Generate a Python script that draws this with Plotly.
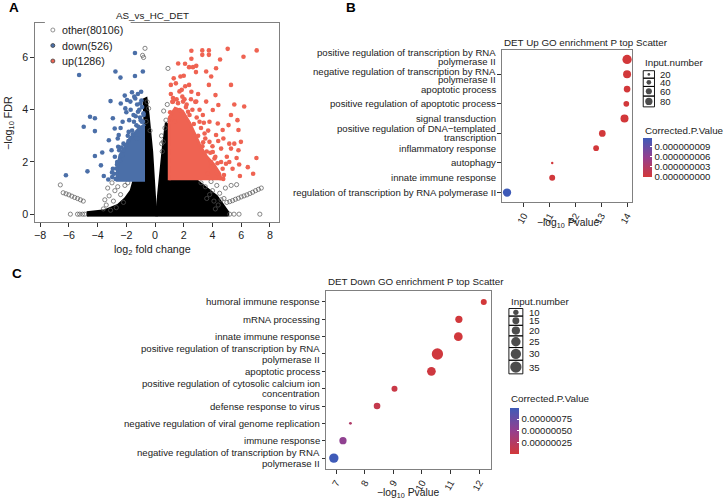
import math
import plotly.graph_objects as go

W, H = 724, 501
FONT = "Liberation Sans, Arial, Helvetica, sans-serif"
TXT = "#222222"

# ---------------- Panel A data (volcano) ----------------
down_x = [-1.40, -2.46, -5.29, -2.76, -2.41, -1.40, -0.85, -2.11, -1.61, -0.97, -3.10, -4.53, -4.19, -4.97,
          -4.19, -6.21, -4.71, -4.19, -3.68, -3.57, -3.26, -3.77, -2.94, -2.94, -2.81, -3.22, -3.03, -2.39,
          -2.07, -2.26, -1.72, -1.38, -1.19, -1.47, -2.53, -1.84, -0.92, -2.57, -2.07, -1.26, -2.64, -2.99,
          -2.30, -1.95, -1.03, -0.81, -1.00, -1.30, -1.60, -1.90, -2.20, -1.10, -0.90, -1.50, -1.80, -2.40,
          -2.00, -1.25, -0.80, -2.60, -2.80, -2.65, -3.00, -2.50, -1.70, -1.45, -1.20, -0.95,
          -2.75, -2.70, -2.45, -2.20, -1.85, -1.55, -1.15, -0.85, -2.85, -2.35, -1.35, -1.05]
down_y = [6.17, 5.95, 5.33, 5.46, 5.23, 5.29, 5.46, 4.54, 4.67, 4.69, 4.33, 3.73, 3.67, 3.35,
          3.18, 1.49, 1.64, 2.23, 2.36, 1.46, 1.33, 1.87, 1.74, 3.67, 3.28, 2.83, 2.45, 4.24,
          4.05, 3.54, 4.31, 4.43, 3.92, 3.54, 3.03, 3.15, 3.54, 2.58, 2.64, 2.90, 2.00, 1.42,
          2.26, 4.37, 4.24, 3.86, 3.60, 3.40, 3.20, 3.00, 2.70, 4.00, 4.10, 3.80, 3.60, 3.30,
          3.90, 4.20, 3.80, 2.90, 2.20, 1.90, 1.60, 2.45, 4.00, 4.50, 4.60, 4.35,
          1.35, 1.75, 2.05, 2.45, 2.80, 3.05, 3.35, 3.55, 1.55, 2.55, 3.75, 3.70]
down_core_x = [-0.70, -2.62, -2.62, -2.45, -2.10, -1.75, -1.25, -0.70]
down_core_y = [1.30, 1.30, 1.75, 2.25, 2.55, 2.90, 3.20, 3.45]

up_x = [5.06, 7.08, 2.53, 3.29, 3.75, 3.29, 3.75, 6.16, 4.53, 2.53, 1.61, 2.09, 2.37, 2.87, 2.64, 3.56,
        2.85, 4.25, 3.91, 1.77, 1.10, 1.45, 2.37, 3.75, 5.29, 1.86, 2.53, 4.21, 5.52, 6.21, 5.29, 4.37,
        5.74, 4.71, 5.81, 5.12, 4.02, 4.41, 4.76, 5.17, 5.52, 5.98, 4.60, 5.29, 5.81, 7.06, 5.68, 5.17,
        5.86, 6.46, 6.83, 5.91, 4.71, 4.37, 4.94, 4.14, 4.02, 3.79, 3.45, 3.10, 3.79, 3.33, 2.87, 3.56,
        1.26, 1.95, 2.30, 1.72, 1.38, 4.25, 3.91, 3.68, 5.40,
        1.20, 1.50, 1.90, 2.20, 2.60, 2.90, 3.20, 3.50, 2.50, 1.10, 1.70, 2.10, 2.80, 3.00, 3.30, 3.60,
        3.90, 4.30, 4.50, 3.10, 2.40, 3.40, 4.00, 4.20, 1.30, 2.00, 3.00, 4.60, 4.40, 4.80, 5.00, 3.70,
        1.05, 1.60, 2.15, 2.70, 3.35, 3.85, 4.35, 4.75, 1.25, 2.05]
up_y = [6.33, 6.27, 6.26, 6.27, 6.27, 6.10, 6.10, 6.03, 5.92, 5.95, 5.77, 5.76, 5.63, 5.68, 5.63, 5.46,
        5.44, 5.59, 5.27, 5.27, 4.95, 5.01, 4.95, 4.95, 4.95, 4.76, 4.69, 4.56, 4.20, 4.12, 3.80, 3.47,
        3.60, 3.22, 3.22, 3.41, 3.99, 4.18, 2.90, 2.70, 2.70, 2.77, 2.51, 2.51, 2.45, 2.15, 2.15, 2.00,
        1.90, 1.80, 1.55, 1.46, 1.74, 1.55, 1.93, 2.13, 2.38, 2.77, 3.09, 3.54, 3.54, 3.80, 4.31, 4.31,
        4.31, 4.31, 3.92, 3.99, 3.54, 3.03, 1.81, 1.55, 1.74,
        4.30, 4.40, 4.50, 4.20, 4.00, 3.70, 3.30, 2.90, 4.40, 4.60, 4.70, 4.90, 4.30, 3.00, 2.60, 2.40,
        2.00, 1.60, 1.40, 4.00, 3.80, 3.50, 2.60, 2.20, 5.20, 5.30, 4.60, 2.00, 2.80, 1.50, 2.20, 3.20,
        3.90, 4.25, 4.10, 3.45, 2.75, 2.35, 1.95, 1.35, 4.45, 4.40]
up_core_x = [0.99, 0.99, 1.40, 1.90, 2.40, 2.85, 3.20, 3.60, 4.10, 4.50, 4.60]
up_core_y = [1.30, 3.70, 4.05, 3.95, 3.50, 3.00, 2.55, 2.20, 1.90, 1.55, 1.30]

other_left_x = [-4.70, -4.70, -3.50, -2.60, -2.10, -1.70, -1.50, -0.70, -0.72, -0.80, -0.60, -0.45, -0.20, 0.02, 0.08, 0.08]
other_left_y = [-0.08, 0.08, 0.15, 0.35, 0.60, 0.90, 1.30, 1.30, 3.30, 4.40, 4.45, 3.80, 2.40, 0.60, 0.18, -0.08]
other_right_x = [0.14, 0.12, 0.22, 0.40, 0.55, 0.75, 0.95, 0.99, 2.90, 3.60, 4.30, 4.70, 5.00, 5.10, 5.10]
other_right_y = [-0.08, 0.18, 0.80, 1.90, 2.60, 3.50, 3.40, 1.30, 1.30, 1.00, 0.70, 0.40, 0.15, 0.08, -0.08]
other_band_x = [-4.75, 5.05]
other_band_y = [0.0, 0.0]
other_x = [-6.4, -6.2, -6.0, -5.8, -5.6, -5.4, -5.2, -5.0, -6.6,
           -5.9, -5.4, -5.25, -5.05, -4.9,
           -0.70, -0.87, -0.80, 0.90, -0.55, -0.45, -0.62, -0.35, 0.76, 0.69, 0.57, 0.46, 0.85, 0.60, 0.50, 0.45,
           -3.0, -2.8, -3.2, -2.6, -2.9, -3.4, -2.4, -2.2, -3.3, -2.7, -3.6, -3.1, -3.5, -2.1, -1.9,
           3.2, 3.5, 4.0, 4.3, 3.8, 4.5, 4.6, 3.9, 4.1, 4.8, 4.4, 5.3, 4.9, 3.6, 4.2, 5.68,
           5.0, 5.2, 5.4, 5.6, 5.8, 6.0, 6.2, 6.4, 6.6, 6.8, 7.0, 7.2, 7.4,
           5.2, 5.5, 5.85, 7.3]
other_y = [0.82, 0.78, 0.74, 0.69, 0.64, 0.60, 0.55, 0.50, 1.12,
           0.0, 0.0, 0.0, 0.0, 0.0,
           6.35, 6.08, 6.00, 5.58, 4.30, 4.05, 3.55, 3.20, 3.60, 3.30, 2.77, 2.70, 4.20, 3.95, 2.40, 3.00,
           1.20, 0.90, 0.70, 1.05, 0.50, 0.35, 0.75, 0.45, 1.00, 0.25, 0.20, 0.15, 0.55, 1.10, 1.20,
           1.20, 1.05, 0.90, 1.10, 0.75, 0.80, 0.55, 1.25, 0.50, 0.60, 0.35, 1.10, 1.00, 0.60, 0.20, 1.13,
           0.45, 0.48, 0.52, 0.57, 0.61, 0.66, 0.70, 0.74, 0.79, 0.84, 0.90, 0.95, 1.00,
           0.0, 0.0, 0.0, 0.0]
legendA_labels = ["other(80106)", "down(526)", "up(1286)"]
x_ticks_A = [-8, -6, -4, -2, 0, 2, 4, 6, 8]
y_ticks_A = [0, 2, 4, 6]

# ---------------- Panel B data (Up GO) ----------------
terms_B = ["positive regulation of transcription by RNA<br>polymerase II",
           "negative regulation of transcription by RNA<br>polymerase II",
           "apoptotic process",
           "positive regulation of apoptotic process",
           "signal transduction",
           "positive regulation of DNA\u2212templated<br>transcription",
           "inflammatory response",
           "autophagy",
           "innate immune response",
           "regulation of transcription by RNA polymerase II"]
logp_B = [14.00, 14.00, 14.00, 13.97, 13.90, 13.04, 12.80, 11.10, 11.10, 9.35]
count_B = [124, 94, 69, 53, 94, 69, 53, 18, 57, 101]
padj_B = [1e-12, 1e-12, 1e-12, 1.2e-12, 1.5e-12, 1e-11, 2e-11, 1e-10, 1e-10, 1.14e-8]
size_breaks_B = [20, 40, 60, 80]
cbar_vals_B = [0, 3e-9, 6e-9, 9e-9]
cbar_text_B = ["0.000000000", "0.000000003", "0.000000006", "0.000000009"]
x_ticks_B = [10, 11, 12, 13, 14]

# ---------------- Panel C data (Down GO) ----------------
terms_C = ["humoral immune response",
           "mRNA processing",
           "innate immune response",
           "positive regulation of transcription by RNA<br>polymerase II",
           "apoptotic process",
           "positive regulation of cytosolic calcium ion<br>concentration",
           "defense response to virus",
           "negative regulation of viral genome replication",
           "immune response",
           "negative regulation of transcription by RNA<br>polymerase II"]
logp_C = [12.16, 11.29, 11.27, 10.54, 10.33, 9.04, 8.43, 7.50, 7.24, 6.92]
count_C = [12, 16, 22, 35, 22, 12, 14, 5, 16, 25]
padj_C = [5e-9, 1.5e-8, 1.5e-8, 3e-8, 4e-8, 8e-8, 1.2e-7, 2.8e-7, 5.3e-7, 9.96e-7]
size_breaks_C = [10, 15, 20, 25, 30, 35]
cbar_vals_C = [2.5e-7, 5e-7, 7.5e-7]
cbar_text_C = ["0.00000025", "0.00000050", "0.00000075"]
x_ticks_C = [7, 8, 9, 10, 11, 12]

COLORSCALE = [[0.0, "#D2383A"], [0.5, "#953F8E"], [1.0, "#3F5BB8"]]
BLUE = "#4B6FA8"
RED = "#EF6352"

# vertical nudges (px, up = positive) of the B label blocks, as in the reference
label_nudge_B = [2.8, -1.3, 0, 0, 0, 0.5, 0, 0, 0, 0]
label_nudge_C = [0] * 10


def dxd(a, b):
    return [a / W, b / W]


def dyd(top, bottom):
    return [1 - bottom / H, 1 - top / H]


def size_B(n):
    return math.sqrt(max(-7.9 + 0.76 * n, 4.0))


def size_C(n):
    return math.sqrt(max(-12.0 + 4.0 * n, 4.0))


fig = go.Figure()

# ---- Panel A traces ----
for px_, py_ in [(other_left_x, other_left_y), (other_right_x, other_right_y)]:
    fig.add_trace(go.Scatter(x=px_, y=py_, mode="lines", fill="toself", fillcolor="black",
                             line=dict(color="black", width=2), xaxis="x", yaxis="y",
                             hoverinfo="skip", showlegend=False))
fig.add_trace(go.Scatter(x=other_band_x, y=other_band_y, mode="lines",
                         line=dict(color="black", width=4.5), xaxis="x", yaxis="y",
                         hoverinfo="skip", showlegend=False))
fig.add_trace(go.Scatter(x=other_x, y=other_y, mode="markers",
                         marker=dict(symbol="circle-open", size=4.2, color="#555555", line=dict(width=0.7)),
                         xaxis="x", yaxis="y", showlegend=False))
fig.add_trace(go.Scatter(x=down_core_x, y=down_core_y, mode="lines", fill="toself", fillcolor=BLUE,
                         line=dict(color=BLUE, width=3), xaxis="x", yaxis="y",
                         hoverinfo="skip", showlegend=False))
fig.add_trace(go.Scatter(x=down_x, y=down_y, mode="markers", marker=dict(size=4.6, color=BLUE),
                         xaxis="x", yaxis="y", showlegend=False))
fig.add_trace(go.Scatter(x=up_core_x, y=up_core_y, mode="lines", fill="toself", fillcolor=RED,
                         line=dict(color=RED, width=3), xaxis="x", yaxis="y",
                         hoverinfo="skip", showlegend=False))
fig.add_trace(go.Scatter(x=up_x, y=up_y, mode="markers", marker=dict(size=4.6, color=RED),
                         xaxis="x", yaxis="y", showlegend=False))

# ---- Panel B ----
fig.add_trace(go.Scatter(x=logp_B, y=terms_B, mode="markers",
                         marker=dict(size=[size_B(n) for n in count_B], color=padj_B,
                                     coloraxis="coloraxis", line=dict(width=0), opacity=1),
                         xaxis="x2", yaxis="y2", showlegend=False))
# ---- Panel C ----
fig.add_trace(go.Scatter(x=logp_C, y=terms_C, mode="markers",
                         marker=dict(size=[size_C(n) for n in count_C], color=padj_C,
                                     coloraxis="coloraxis2", line=dict(width=0), opacity=1),
                         xaxis="x3", yaxis="y3", showlegend=False))

shapes = []
annotations = []


# category labels (drawn per line so the line spacing matches)
def cat_labels(terms, nudges, yref, x_right_px, gap):
    for t, nd in zip(terms, nudges):
        lines = t.split("<br>")
        n = len(lines)
        for i, ln in enumerate(lines):
            shift = ((n - 1) / 2.0 - i) * gap + nd
            annotations.append(dict(x=x_right_px / W, y=t, xref="paper", yref=yref, text=ln,
                                    showarrow=False, xanchor="right", yanchor="middle", yshift=shift,
                                    font=dict(size=9.6, color=TXT, family=FONT)))


cat_labels(terms_B, label_nudge_B, "y2", 498, 8.8)
cat_labels(terms_C, label_nudge_C, "y3", 322, 10.3)

# ---- Legend A (aux axes x4/y4, pixel units) ----
legA_keys_y = [8, 23.5, 39]
fig.add_trace(go.Scatter(x=[8, 8, 8], y=legA_keys_y, mode="markers",
                         marker=dict(symbol=["circle-open", "circle", "circle"], size=4,
                                     color=["#777777", BLUE, RED], line=dict(width=0.8)),
                         xaxis="x4", yaxis="y4", showlegend=False, hoverinfo="skip"))
for lab, yy in zip(legendA_labels, legA_keys_y):
    annotations.append(dict(x=15.5, y=yy, xref="x4", yref="y4", text=lab, showarrow=False,
                            xanchor="left", yanchor="middle", font=dict(size=10.7, color=TXT)))


def size_legend(breaks, sizefn, xa, ya, box_w, pad, minh, top0):
    ds = [sizefn(b) for b in breaks]
    hs = [max(minh, d + pad) for d in ds]
    ys, cur = [], top0
    for h in hs:
        ys.append(cur + h / 2)
        cur += h
    fig.add_trace(go.Scatter(x=[box_w / 2] * len(breaks), y=ys, mode="markers",
                             marker=dict(size=ds, color="black", line=dict(width=0)),
                             xaxis=xa, yaxis=ya, showlegend=False, hoverinfo="skip"))
    cur = top0
    for b, h, yc in zip(breaks, hs, ys):
        shapes.append(dict(type="rect", xref=xa, yref=ya, x0=0, x1=box_w, y0=cur, y1=cur + h,
                           line=dict(color="black", width=0.9), fillcolor="rgba(0,0,0,0)"))
        cur += h
        annotations.append(dict(x=box_w + 4, y=yc, xref=xa, yref=ya, text=str(b), showarrow=False,
                                xanchor="left", yanchor="middle", font=dict(size=9.6, color=TXT)))


size_legend(size_breaks_B, size_B, "x5", "y5", 11.3, 3.5, 7.5, 4.7)
size_legend(size_breaks_C, size_C, "x6", "y6", 14.0, 2.3, 7.0, 4.5)


# ---- text annotations ----
def ann(x, y, text, size=9.6, xanchor="left", yanchor="middle", bold=False, angle=0):
    annotations.append(dict(x=x / W, y=1 - y / H, xref="paper", yref="paper",
                            text=("<b>%s</b>" % text) if bold else text,
                            showarrow=False, xanchor=xanchor, yanchor=yanchor, textangle=angle,
                            font=dict(size=size, color="black" if bold else TXT, family=FONT)))


ann(6, 8, "A", 13.5, bold=True)
ann(344, 8, "B", 13.5, bold=True)
ann(9, 273, "C", 13.5, bold=True)
ann(152, 16, "AS_vs_HC_DET", 9.8, xanchor="center")
ann(502, 42, "DET Up GO enrichment P top Scatter", 9.8)
ann(326, 281, "DET Down GO enrichment P top Scatter", 9.8)
ann(8, 123, "\u2212log<sub>10</sub> FDR", 10.7, xanchor="center", angle=-90)
ann(152, 250, "log<sub>2</sub> fold change", 10.7, xanchor="center")
ann(569, 223, "\u2212log<sub>10</sub> Pvalue", 10.3, xanchor="center")
ann(408, 493, "\u2212log<sub>10</sub> Pvalue", 10.3, xanchor="center")
ann(644, 63, "Input.number", 9.8)
ann(644, 130, "Corrected.P.Value", 9.8)
ann(509, 301, "Input.number", 9.8)
ann(509, 398, "Corrected.P.Value", 9.8)

axis_common = dict(showgrid=False, zeroline=False, showline=True, mirror=True, linecolor="#808080",
                   linewidth=1, ticks="outside", ticklen=3.5, tickcolor="#333333", tickwidth=1,
                   tickfont=dict(size=10.7, color=TXT, family=FONT))
cat_axis = dict(axis_common, showticklabels=False)
rot_axis = dict(axis_common, tickfont=dict(size=9.6, color=TXT, family=FONT), tickangle=-60)
aux = dict(visible=False, showgrid=False, zeroline=False, fixedrange=True)

cbar_common = dict(xanchor="left", yanchor="top", lenmode="pixels", thicknessmode="pixels",
                   xpad=0, ypad=0, outlinewidth=0, ticks="inside", ticklen=2, tickcolor="white",
                   tickwidth=1, tickfont=dict(size=9.6, color=TXT, family=FONT), title=dict(text=""))

fig.update_layout(
    width=W, height=H, margin=dict(l=0, r=0, t=0, b=0),
    paper_bgcolor="white", plot_bgcolor="white",
    font=dict(family=FONT, color=TXT),
    showlegend=False,
    xaxis=dict(axis_common, domain=dxd(34, 279), range=[-8.37, 8.65], tickvals=x_ticks_A, anchor="y"),
    yaxis=dict(axis_common, domain=dyd(23, 222), range=[-0.30, 7.32], tickvals=y_ticks_A, anchor="x"),
    xaxis2=dict(rot_axis, domain=dxd(502, 633), range=[9.14, 14.2], tickvals=x_ticks_B, anchor="y2"),
    yaxis2=dict(cat_axis, domain=dyd(50, 202), type="category", categoryorder="array",
                categoryarray=terms_B[::-1], range=[-0.64, 9.64], anchor="x2"),
    xaxis3=dict(rot_axis, domain=dxd(326, 491), range=[6.65, 12.4], tickvals=x_ticks_C, anchor="y3"),
    yaxis3=dict(cat_axis, domain=dyd(291, 469), type="category", categoryorder="array",
                categoryarray=terms_C[::-1], range=[-0.63, 9.63], anchor="x3"),
    xaxis4=dict(aux, domain=dxd(44, 130), range=[0, 86], anchor="y4"),
    yaxis4=dict(aux, domain=dyd(22, 68), range=[46, 0], anchor="x4"),
    xaxis5=dict(aux, domain=dxd(640, 710), range=[-4, 66], anchor="y5"),
    yaxis5=dict(aux, domain=dyd(66, 112), range=[46, 0], anchor="x5"),
    xaxis6=dict(aux, domain=dxd(505, 570), range=[-4.3, 60.7], anchor="y6"),
    yaxis6=dict(aux, domain=dyd(304, 384), range=[80, 0], anchor="x6"),
    coloraxis=dict(colorscale=COLORSCALE, cmin=0, cmax=max(padj_B),
                   colorbar=dict(cbar_common, x=644 / W, y=1 - 138 / H, len=39, thickness=9,
                                 tickvals=cbar_vals_B, ticktext=cbar_text_B)),
    coloraxis2=dict(colorscale=COLORSCALE, cmin=min(padj_C), cmax=max(padj_C),
                    colorbar=dict(cbar_common, x=510 / W, y=1 - 407.7 / H, len=46, thickness=9,
                                  tickvals=cbar_vals_C, ticktext=cbar_text_C)),
    shapes=shapes,
    annotations=annotations,
)

fig.write_html("out.html")
